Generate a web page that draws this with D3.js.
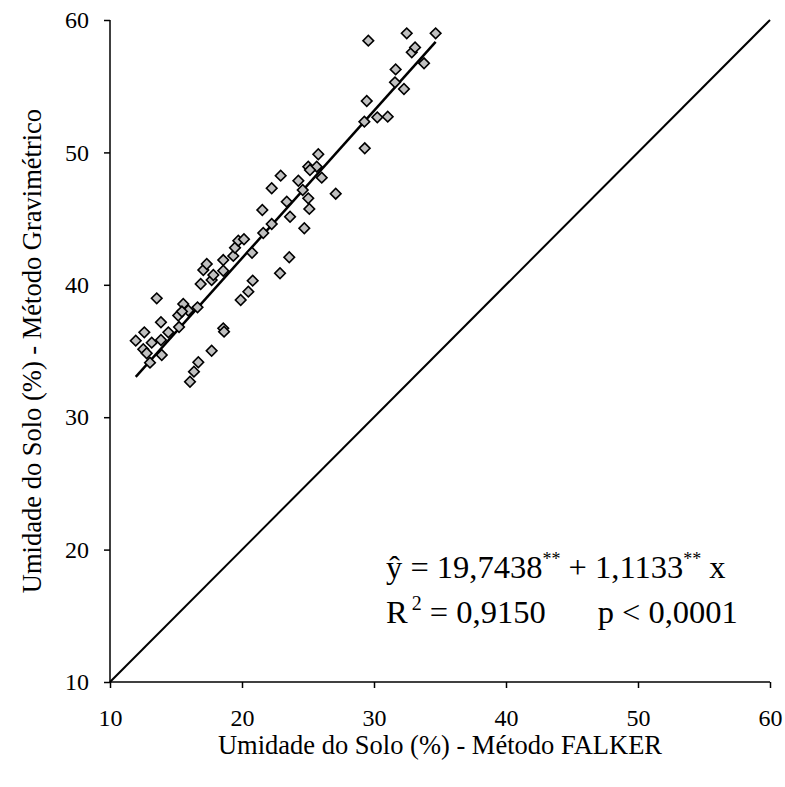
<!DOCTYPE html>
<html>
<head>
<meta charset="utf-8">
<script src="https://cdn.jsdelivr.net/npm/d3@7"></script>
<style>
  body { margin: 0; background: white; }
  text { font-family: "Liberation Serif", "Times New Roman", serif; fill: black; }
</style>
</head>
<body>
<svg class="canvas"></svg>
<script>
// data
let falker = [11.95, 12.60, 12.52, 12.78, 13.03, 13.16, 13.54, 13.86, 13.86, 13.92,
  14.42, 15.17, 15.23, 15.55, 15.93, 15.45, 16.63, 16.06, 16.36, 16.69,
  16.87, 17.07, 17.33, 17.70, 17.83, 17.70, 18.58, 18.64, 18.58, 18.58,
  19.34, 19.47, 19.72, 20.15, 19.90, 20.48, 20.81, 20.76, 21.54, 21.61,
  22.25, 22.25, 22.88, 22.93, 23.39, 23.58, 23.64, 24.27, 24.60, 24.72,
  25.02, 25.02, 25.10, 25.66, 25.15, 25.78, 26.04, 27.10, 29.30, 29.27,
  29.45, 29.57, 30.25, 31.04, 31.59, 31.64, 32.27, 32.48, 32.86, 33.11,
  33.79, 34.67];
let gravimetrico = [35.78, 36.41, 35.13, 34.83, 34.12, 35.63, 38.98, 37.17, 35.83, 34.70,
  36.41, 37.68, 36.81, 38.55, 38.06, 37.98, 38.30, 32.68, 33.44, 34.15,
  40.06, 41.12, 41.57, 40.36, 40.74, 35.02, 36.71, 36.46, 41.87, 41.06,
  42.18, 42.80, 43.33, 43.44, 38.85, 39.48, 40.31, 42.42, 45.65, 43.91,
  44.59, 47.29, 40.87, 48.24, 46.28, 42.08, 45.14, 47.86, 47.16, 44.27,
  46.53, 48.92, 45.73, 48.92, 48.67, 49.86, 48.09, 46.88, 50.31, 52.32,
  53.88, 58.44, 52.65, 52.70, 55.29, 56.27, 54.79, 58.99, 57.56, 57.93,
  56.73, 58.99];
let ticks = [10, 20, 30, 40, 50, 60];
let intercept = 19.7438;
let slope = 1.1133;
let eqLine1 = ["ŷ = 19,7438", "**", " + 1,1133", "**", " x"];
let eqLine2 = ["R", "2", " = 0,9150", "p < 0,0001"];

//layout
let width = 785;
let height = 787;
let m_left = 110, m_right = 770, m_top = 20, m_bottom = 682;

let points = falker.map(function(f, i) { return {x: f, y: gravimetrico[i]}; });

let x = d3.scaleLinear().domain([10, 60]).range([m_left, m_right]);
let y = d3.scaleLinear().domain([10, 60]).range([m_bottom, m_top]);

let svg = d3.select(".canvas")
  .attr("width", width)
  .attr("height", height)
  .style("background", "white");

// axes
let xAxis = svg.append("g")
  .attr("transform", "translate(0," + m_bottom + ")")
  .call(d3.axisBottom(x).tickValues(ticks).tickSize(6).tickPadding(21).tickFormat(d3.format("d")));
let yAxis = svg.append("g")
  .attr("transform", "translate(" + m_left + ",0)")
  .call(d3.axisLeft(y).tickValues(ticks).tickSize(6).tickPadding(15).tickFormat(d3.format("d")));

[xAxis, yAxis].forEach(function(a) {
  a.select(".domain").attr("stroke", "black").attr("stroke-width", 1.5)
    .attr("d", a === xAxis ? "M" + m_left + ",0H" + m_right : "M0," + m_bottom + "V" + m_top);
  a.selectAll(".tick line").attr("stroke", "black").attr("stroke-width", 1.5);
  a.selectAll(".tick text").style("font-family", "Liberation Serif").style("font-size", "24px");
});

// 1:1 line
svg.append("line")
  .attr("x1", x(10)).attr("y1", y(10))
  .attr("x2", x(60)).attr("y2", y(60))
  .attr("stroke", "black").attr("stroke-width", 2);

// regression line
let xmin = d3.min(falker), xmax = d3.max(falker);
svg.append("line")
  .attr("x1", x(xmin)).attr("y1", y(intercept + slope * xmin))
  .attr("x2", x(xmax)).attr("y2", y(intercept + slope * xmax))
  .attr("stroke", "black").attr("stroke-width", 2.5);

// diamonds
let diamond = d3.symbol().type(d3.symbolSquare).size(56);
svg.selectAll(".pt")
  .data(points)
  .enter()
  .append("path")
  .attr("class", "pt")
  .attr("d", diamond)
  .attr("transform", function(p) { return "translate(" + x(p.x) + "," + y(p.y) + ") rotate(45)"; })
  .attr("fill", "#c0c0c0")
  .attr("stroke", "black")
  .attr("stroke-width", 1.6);

// axis titles
svg.append("text")
  .attr("x", (m_left + m_right) / 2).attr("y", 754)
  .attr("text-anchor", "middle")
  .style("font-size", "26.5px")
  .text("Umidade do Solo (%) - Método FALKER");

svg.append("text")
  .attr("transform", "translate(41," + (m_top + m_bottom) / 2 + ") rotate(-90)")
  .attr("text-anchor", "middle")
  .style("font-size", "26.5px")
  .text("Umidade do Solo (%) - Método Gravimétrico");

// equation
let eq1 = svg.append("text").attr("x", 386).attr("y", 578).style("font-size", "32.5px");
eq1.append("tspan").text(eqLine1[0]);
eq1.append("tspan").attr("dy", -13).style("font-size", "18px").text(eqLine1[1]);
eq1.append("tspan").attr("dy", 13).text(eqLine1[2]);
eq1.append("tspan").attr("dy", -13).style("font-size", "18px").text(eqLine1[3]);
eq1.append("tspan").attr("dy", 13).text(eqLine1[4]);

let eq2 = svg.append("text").attr("x", 386).attr("y", 623).style("font-size", "32.5px");
eq2.append("tspan").text(eqLine2[0]);
eq2.append("tspan").attr("dx", 4).attr("dy", -13).style("font-size", "20px").text(eqLine2[1]);
eq2.append("tspan").attr("dy", 13).text(eqLine2[2]);
eq2.append("tspan").attr("dx", 52).text(eqLine2[3]);
</script>
</body>
</html>
